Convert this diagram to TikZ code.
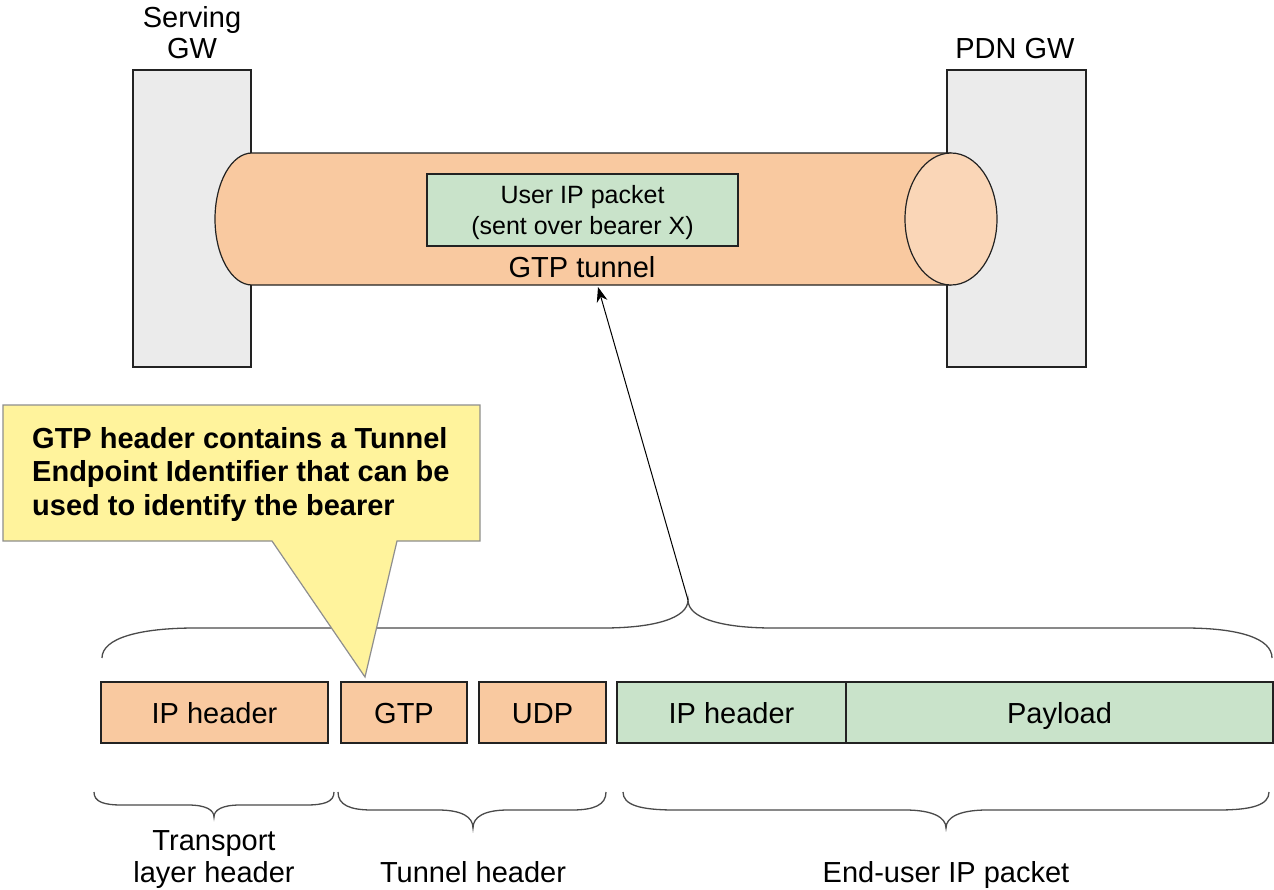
\documentclass[tikz,border=0pt]{standalone}
\usepackage{fontspec}
\setmainfont{Liberation Sans}
\usetikzlibrary{arrows.meta,shapes.geometric}

\definecolor{peach}{HTML}{F9C9A0}
\definecolor{peachlight}{HTML}{FAD6B7}
\definecolor{mint}{HTML}{C9E3CA}
\definecolor{gwgray}{HTML}{EBEBEB}
\definecolor{noteyellow}{HTML}{FFF39C}
\definecolor{noteedge}{HTML}{8E8E8E}
\definecolor{edge}{HTML}{222222}
\definecolor{bracegray}{HTML}{4A4A4A}

\tikzset{
  txt/.style={inner sep=0pt, font=\fontsize{29}{33}\selectfont, anchor=base},
  gwbox/.style={draw=edge, fill=gwgray, line width=1.4pt, inner sep=0pt},
  hdr/.style={draw=edge, line width=1.4pt, fill=peach, inner sep=0pt,
              font=\fontsize{29}{33}\selectfont, minimum height=61pt,
              text height=21pt, text depth=0pt},
  usr/.style={hdr, fill=mint},
  curly/.style={draw=bracegray, line width=1.3pt},
  pointer/.style={-{Stealth[length=15pt,width=11pt]}, line width=1pt, draw=black},
}

\begin{document}
\begin{tikzpicture}[x=1pt,y=-1pt]
\useasboundingbox (0,0) rectangle (1274,889);

% gateways
\node[gwbox, minimum width=118pt, minimum height=297pt] (sgw) at (192,218.5) {};
\node[gwbox, minimum width=139pt, minimum height=297pt] (pgw) at (1016.5,218.5) {};
\node[txt] (sgwlbl1) at (192,27) {Serving};
\node[txt] (sgwlbl2) at (192,58) {GW};
\node[txt] (pgwlbl) at (1015,58) {PDN GW};

% tunnel body with rounded left end
\path[fill=peach, draw=edge, line width=1.2pt]
  (951,153) -- (252,153)
  .. controls (231.6,153) and (215,182.5) .. (215,219)
  .. controls (215,255.5) and (231.6,285) .. (252,285) -- (951,285);
% open mouth of the tunnel
\node[draw=edge, fill=peachlight, line width=1.2pt, ellipse, inner sep=0pt,
      minimum width=92pt, minimum height=132pt] (mouth) at (951,219) {};

\node[draw=edge, fill=mint, line width=1.2pt, inner sep=0pt,
      minimum width=311pt, minimum height=72pt] (userpkt) at (582.5,210) {};
\node[txt, font=\fontsize{25}{32}\selectfont] (userpkt1) at (582.5,203) {User IP packet};
\node[txt, font=\fontsize{25}{32}\selectfont] (userpkt2) at (582.5,234) {(sent over bearer X)};
\node[txt] (tunlbl) at (582,277) {GTP tunnel};
\coordinate (tunbase) at (598,287);

% packet fields
\node[hdr, minimum width=227pt] (iph) at (214.5,712.5) {IP header};
\node[hdr, minimum width=126pt] (gtp) at (404,712.5) {GTP};
\node[hdr, minimum width=127pt] (udp) at (542.5,712.5) {UDP};
\node[usr, minimum width=229pt] (uiph) at (731.5,712.5) {IP header};
\node[usr, minimum width=427pt] (payload) at (1059.5,712.5) {Payload};

% brace over the whole packet
\coordinate (toptip) at (688,600);
\draw[curly] (102,658) .. controls (102,638) and (140,628) .. (195,628) -- (603,628)
  .. controls (655,628) and (688,618) .. (toptip)
  .. controls (688,618) and (721,628) .. (773,628) -- (1185,628)
  .. controls (1238,628) and (1272,638) .. (1272,658);
\draw[pointer] (toptip) -- (tunbase);

% callout pointing at the GTP field
\draw[draw=noteedge, fill=noteyellow, line width=1.2pt]
  (3,405) -- (480,405) -- (480,541) -- (397,541) -- (365,677) -- (272,541) -- (3,541) -- cycle;
\node[inner sep=0pt, anchor=base west,
      font=\bfseries\fontsize{29}{33}\selectfont] (note1) at (32,448) {GTP header contains a Tunnel};
\node[inner sep=0pt, anchor=base west,
      font=\bfseries\fontsize{29}{33}\selectfont] (note2) at (32,481.5) {Endpoint Identifier that can be};
\node[inner sep=0pt, anchor=base west,
      font=\bfseries\fontsize{29}{33}\selectfont] (note3) at (32,515) {used to identify the bearer};

% braces under the field groups
\draw[curly] (94,792) .. controls (94,802) and (104,805) .. (122,805) -- (188,805)
  .. controls (206,805) and (214,810) .. (214,817)
  .. controls (214,810) and (222,805) .. (240,805) -- (306,805)
  .. controls (324,805) and (334,802) .. (334,792);
\draw[curly] (338,792) .. controls (338,805) and (350,810) .. (372,810) -- (438,810)
  .. controls (462,810) and (473,817) .. (473,828)
  .. controls (473,817) and (484,810) .. (508,810) -- (572,810)
  .. controls (594,810) and (606,805) .. (606,792);
\draw[curly] (623,792) .. controls (623,805) and (640,810) .. (675,810) -- (905,810)
  .. controls (932,810) and (946,817) .. (946,828)
  .. controls (946,817) and (960,810) .. (987,810) -- (1218,810)
  .. controls (1252,810) and (1269,805) .. (1269,792);

\node[txt] (translbl1) at (214,850) {Transport};
\node[txt] (translbl2) at (214,882) {layer header};
\node[txt] (tunhdrlbl) at (473,882) {Tunnel header};
\node[txt] (endlbl) at (946,882) {End-user IP packet};
\end{tikzpicture}
\end{document}
